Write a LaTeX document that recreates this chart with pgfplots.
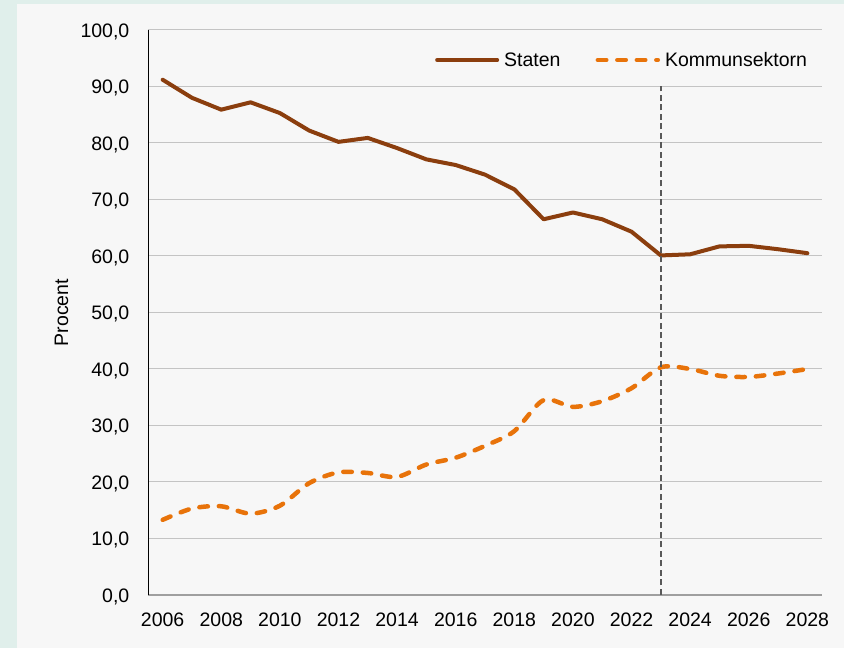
\documentclass[border=0pt]{standalone}
\usepackage{fontspec}
\setmainfont{Liberation Sans}
\usepackage{pgfplots}
\pgfplotsset{compat=1.18}
\definecolor{mint}{HTML}{E0EFEB}
\definecolor{panel}{HTML}{F7F7F7}
\definecolor{staten}{HTML}{8B3E0E}
\definecolor{kommun}{HTML}{E8730A}
\definecolor{gridc}{HTML}{C4C4C4}
\newcommand{\cf}{\fontsize{19.5}{23}\selectfont}
\begin{document}
\begin{tikzpicture}
\fill[mint] (0pt,0pt) rectangle (844pt,648pt);
\fill[panel] (17pt,0pt) rectangle (844pt,644pt);
\useasboundingbox (0pt,0pt) rectangle (844pt,648pt);
\begin{axis}[
  at={(148pt,53pt)}, anchor=south west,
  scale only axis, width=674pt, height=565pt,
  xmin=2005.5, xmax=2028.5, ymin=0, ymax=100,
  xtick={2006,2008,...,2028},
  ytick={0,10,...,100},
  major tick length=0pt,
  axis x line*=bottom, axis y line*=left,
  x axis line style={-, draw=gray!75, line width=1.6pt},
  y axis line style={-, draw=black, line width=1pt},
  ymajorgrids, grid style={gridc, line width=1pt},
  /pgf/number format/assume math mode=true,
  yticklabel={\pgfmathprintnumber[fixed,fixed zerofill,precision=1,use comma]{\tick}},
  xticklabel={\pgfmathprintnumber[1000 sep={}]{\tick}},
  yticklabel style={font=\cf, anchor=base east, inner sep=0pt, xshift=-18.5pt, yshift=-7.3pt},
  xticklabel style={font=\cf, anchor=base, inner sep=0pt, yshift=-32pt},
  ylabel={Procent},
  ylabel style={font=\cf, at={(axis description cs:-0.118,0.5)}, rotate=0, anchor=south, inner sep=0pt},
  legend columns=2,
  legend image code/.code={\draw[#1] (0pt,0pt) -- (60pt,0pt);},
  legend style={font=\cf, draw=none, fill=none, inner sep=0pt,
    at={(axis description cs:0.4258,0.9469)}, anchor=west,
    nodes={inner sep=0pt},
    /tikz/every odd column/.append style={column sep=5pt},
    /tikz/every even column/.append style={column sep=35pt}},
]
\addplot[staten, line width=4pt, line join=round, line cap=round] coordinates {
(2006,91.2)(2007,88.0)(2008,85.9)(2009,87.2)(2010,85.3)(2011,82.2)(2012,80.2)(2013,80.9)
(2014,79.1)(2015,77.1)(2016,76.1)(2017,74.4)(2018,71.8)(2019,66.5)(2020,67.7)(2021,66.5)
(2022,64.3)(2023,60.1)(2024,60.3)(2025,61.7)(2026,61.8)(2027,61.2)(2028,60.5)};
\addlegendentry{Staten}
\addplot[kommun, line width=4.5pt, line cap=round, dash pattern=on 8.5pt off 11pt, smooth] coordinates {
(2006,13.3)(2007,15.3)(2008,15.7)(2009,14.4)(2010,15.8)(2011,19.8)(2012,21.7)(2013,21.6)
(2014,20.9)(2015,23.1)(2016,24.3)(2017,26.4)(2018,29.0)(2019,34.5)(2020,33.3)(2021,34.3)
(2022,36.6)(2023,40.3)(2024,40.0)(2025,38.8)(2026,38.6)(2027,39.2)(2028,40.0)};
\addlegendentry{Kommunsektorn}
\addplot[black!65, line width=1.5pt, dash pattern=on 6pt off 3.5pt, forget plot] coordinates {(2023,0)(2023,90)};
\end{axis}
\end{tikzpicture}
\end{document}
